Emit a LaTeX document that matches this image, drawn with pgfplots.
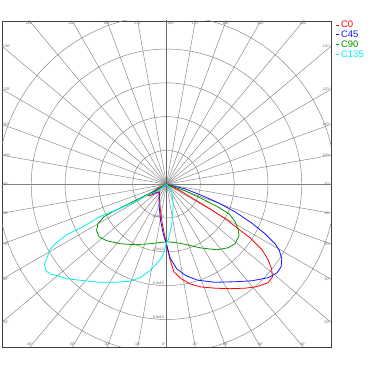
\documentclass[border=0pt]{standalone}
\usepackage{fontspec}
\setmainfont{Liberation Sans}
\usepackage{pgfplots}
\pgfplotsset{compat=1.18}
\definecolor{cZero}{RGB}{255,0,0}
\definecolor{cFortyFive}{RGB}{20,20,255}
\definecolor{cNinety}{RGB}{0,150,0}
\definecolor{cOneThirtyFive}{RGB}{0,240,240}
\definecolor{gridgray}{RGB}{130,130,130}
\tikzset{anglab/.style={font=\fontsize{3.6}{4}\selectfont, text=black!60, inner sep=0.8pt}}
\begin{document}
\begin{tikzpicture}
\useasboundingbox (0,0) rectangle (370pt,370pt);
\begin{axis}[
  at={(2pt,23pt)}, anchor=south west,
  scale only axis, width=329pt, height=326pt,
  xmin=-9.73, xmax=9.73, ymin=-9.63, ymax=9.66,
  xtick=\empty, ytick=\empty,
  axis line style={draw=black!75, line width=0.7pt},
  legend style={at={(1,1)}, anchor=north west, xshift=4.5pt, yshift=1pt, draw=none, fill=none,
    font=\fontsize{9.5}{10}\selectfont, inner sep=0pt, row sep=0.6pt, column sep=1.2pt,
    nodes={inner sep=0.6pt}},
  legend cell align=left,
  legend image code/.code={\draw[#1, line width=0.6pt] (0pt,0pt) -- (3pt,0pt);},
]
% grid circles
\pgfplotsinvokeforeach{2,4,6,8,10}{\draw[gridgray, line width=0.45pt] (axis cs:0,0) circle[radius=#1];}
% spokes
\pgfplotsinvokeforeach{0,10,...,350}{\draw[gridgray, line width=0.45pt] (axis cs:0,0) -- (axis cs:{15*cos(#1)},{15*sin(#1)});}
\draw[black!60, line width=0.9pt] (axis cs:0,-12) -- (axis cs:0,12);
% angle labels
\node[anglab, anchor=west] at (axis cs:-9.73,-8.16) {50°};
\node[anglab, anchor=west] at (axis cs:-9.73,-5.62) {60°};
\node[anglab, anchor=west] at (axis cs:-9.73,-3.54) {70°};
\node[anglab, anchor=west] at (axis cs:-9.73,-1.72) {80°};
\node[anglab, anchor=west] at (axis cs:-9.73,0) {90°};
\node[anglab, anchor=west] at (axis cs:-9.73,1.72) {100°};
\node[anglab, anchor=west] at (axis cs:-9.73,3.54) {110°};
\node[anglab, anchor=west] at (axis cs:-9.73,5.62) {120°};
\node[anglab, anchor=west] at (axis cs:-9.73,8.16) {130°};
\node[anglab, anchor=east] at (axis cs:9.73,-8.16) {50°};
\node[anglab, anchor=east] at (axis cs:9.73,-5.62) {60°};
\node[anglab, anchor=east] at (axis cs:9.73,-3.54) {70°};
\node[anglab, anchor=east] at (axis cs:9.73,-1.72) {80°};
\node[anglab, anchor=east] at (axis cs:9.73,0) {90°};
\node[anglab, anchor=east] at (axis cs:9.73,1.72) {100°};
\node[anglab, anchor=east] at (axis cs:9.73,3.54) {110°};
\node[anglab, anchor=east] at (axis cs:9.73,5.62) {120°};
\node[anglab, anchor=east] at (axis cs:9.73,8.16) {130°};
\node[anglab, anchor=north] at (axis cs:-8.11,9.66) {140°};
\node[anglab, anchor=north] at (axis cs:-5.58,9.66) {150°};
\node[anglab, anchor=north] at (axis cs:-3.52,9.66) {160°};
\node[anglab, anchor=north] at (axis cs:-1.70,9.66) {170°};
\node[anglab, anchor=north west] at (axis cs:0,9.66) {180°};
\node[anglab, anchor=north] at (axis cs:1.70,9.66) {170°};
\node[anglab, anchor=north] at (axis cs:3.52,9.66) {160°};
\node[anglab, anchor=north] at (axis cs:5.58,9.66) {150°};
\node[anglab, anchor=north] at (axis cs:8.11,9.66) {140°};
\node[anglab, anchor=south] at (axis cs:-8.08,-9.63) {40°};
\node[anglab, anchor=south] at (axis cs:-5.56,-9.63) {30°};
\node[anglab, anchor=south] at (axis cs:-3.50,-9.63) {20°};
\node[anglab, anchor=south] at (axis cs:-1.70,-9.63) {10°};
\node[anglab, anchor=south east] at (axis cs:0,-9.63) {0°};
\node[anglab, anchor=south] at (axis cs:1.70,-9.63) {10°};
\node[anglab, anchor=south] at (axis cs:3.50,-9.63) {20°};
\node[anglab, anchor=south] at (axis cs:5.56,-9.63) {30°};
\node[anglab, anchor=south] at (axis cs:8.08,-9.63) {40°};
% radial labels
\node[anglab, anchor=south east] at (axis cs:-0.1,-2) {2.0e10};
\node[anglab, anchor=south east] at (axis cs:-0.1,-4) {4.0e10};
\node[anglab, anchor=south east] at (axis cs:-0.1,-6) {6.0e10};
\node[anglab, anchor=south east] at (axis cs:-0.1,-8) {8.0e10};
% C0
\addplot[cZero, line width=0.8pt, no marks] coordinates {
(0,0) (-0.49,-0.22) (-0.80,-0.44) (-1.15,-0.65) (-0.98,-0.68) (-0.62,-0.53) (-0.41,-0.44)
(-0.41,-0.92) (-0.36,-1.51) (-0.27,-2.22) (-0.12,-2.99) (0.03,-3.70) (0.21,-4.47) (0.44,-5.18)
(0.86,-5.59) (1.39,-5.89) (1.98,-6.07) (2.87,-6.15) (3.76,-6.18) (4.64,-6.15) (5.30,-6.07)
(6.01,-5.83) (6.27,-5.47) (6.21,-5.00) (6.01,-4.47) (5.65,-3.88) (4.94,-3.17) (4.23,-2.63)
(3.56,-2.10) (2.57,-1.45) (1.59,-0.86) (0.80,-0.38) (0,0)};
\addlegendentry{\textcolor{cZero}{C0}}
% C45
\addplot[cFortyFive, line width=0.8pt, no marks] coordinates {
(0,0) (-0.50,-0.33) (-0.86,-0.53) (-1.08,-0.62) (-0.68,-0.50) (-0.44,-0.50) (-0.44,-1.21)
(-0.36,-2.10) (-0.18,-2.99) (0.01,-3.58) (0.21,-4.35) (0.60,-5.00) (1.15,-5.41) (1.86,-5.68)
(2.87,-5.80) (4.05,-5.77) (5.06,-5.71) (6.01,-5.53) (6.54,-5.24) (6.78,-4.88) (6.82,-4.41)
(6.66,-3.88) (6.42,-3.52) (5.83,-2.93) (5.06,-2.31) (4.05,-1.63) (3.05,-1.09) (1.98,-0.62)
(1.09,-0.27) (0,0)};
\addlegendentry{\textcolor{cFortyFive}{C45}}
% C90
\addplot[cNinety, line width=0.8pt, no marks] coordinates {
(0,0) (-0.98,-0.53) (-2.16,-1.12) (-3.15,-1.61) (-3.70,-1.92) (-4.05,-2.34) (-4.14,-2.75)
(-3.99,-3.11) (-3.54,-3.34) (-2.75,-3.52) (-1.86,-3.58) (-0.98,-3.52) (0.01,-3.40)
(0.80,-3.49) (1.98,-3.76) (2.97,-3.88) (3.64,-3.76) (4.05,-3.52) (4.29,-3.05) (4.23,-2.63)
(4.05,-2.20) (3.70,-1.75) (2.99,-1.31) (1.98,-0.80) (1.09,-0.38) (0.60,-0.22) (0,0)};
\addlegendentry{\textcolor{cNinety}{C90}}
% C135
\addplot[cOneThirtyFive, line width=0.8pt, no marks] coordinates {
(0,0) (0.31,-0.43) (0.40,-1.21) (0.31,-2.40) (0.11,-3.28) (0.01,-3.42) (-0.19,-4.17)
(-0.38,-4.47) (-0.98,-5.12) (-1.57,-5.53) (-2.16,-5.74) (-3.05,-5.80) (-3.93,-5.80)
(-5.12,-5.68) (-5.91,-5.59) (-6.48,-5.41) (-6.89,-5.30) (-7.13,-5.12) (-7.22,-4.76)
(-7.07,-4.35) (-6.89,-3.88) (-6.60,-3.52) (-5.91,-2.99) (-4.92,-2.50) (-3.93,-1.91)
(-3.17,-1.60) (-1.96,-1.09) (-1.09,-0.62) (-0.58,-0.43) (0,0)};
\addlegendentry{\textcolor{cOneThirtyFive}{C135}}
\end{axis}
\end{tikzpicture}
\end{document}
